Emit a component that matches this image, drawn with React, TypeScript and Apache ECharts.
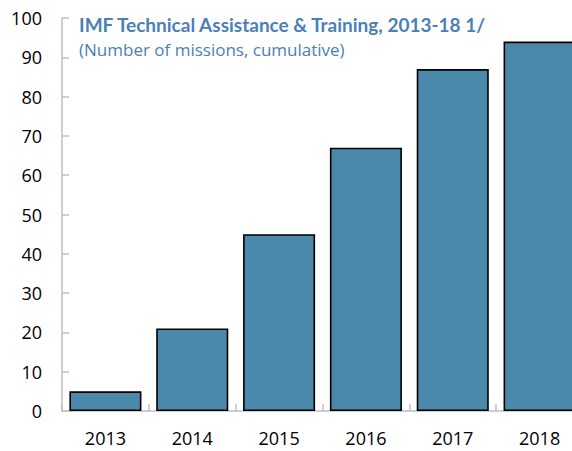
import React, { useEffect, useRef } from "react";
import * as echarts from "echarts";

const categories = ["2013", "2014", "2015", "2016", "2017", "2018"];
const missions = [5, 21, 45, 67, 87, 94];
const titleText = "IMF Technical Assistance & Training, 2013-18 1/";
const subtitleText = "(Number of missions, cumulative)";

export default function App() {
  const ref = useRef<HTMLDivElement>(null);
  useEffect(() => {
    if (!ref.current) return;
    const chart = echarts.init(ref.current, null, { renderer: "svg" });
    const font = "'Open Sans', 'Noto Sans', sans-serif";
    chart.setOption({
      animation: false,
      backgroundColor: "#ffffff",
      textStyle: { fontFamily: font },
      title: {
        text: titleText,
        subtext: subtitleText,
        left: 79,
        top: 15,
        itemGap: 7,
        padding: 0,
        textStyle: { color: "#4a7fb8", fontSize: 19, fontWeight: "bold", fontFamily: "Lato, 'Open Sans', sans-serif" },
        subtextStyle: { color: "#4a7fb8", fontSize: 17, fontFamily: font },
      },
      grid: { left: 62, right: -11, top: 18, bottom: 40, outerBoundsMode: "none", containLabel: false },
      xAxis: {
        type: "category",
        data: categories,
        axisLine: { show: true, lineStyle: { color: "#bfbfbf", width: 1.5 } },
        axisTick: { show: true, inside: true, length: 7, alignWithLabel: false, lineStyle: { color: "#bfbfbf", width: 1.5 } },
        axisLabel: { color: "#000", fontSize: 18, lineHeight: 16, margin: 19, fontFamily: font },
        splitLine: { show: false },
      },
      yAxis: {
        type: "value",
        min: 0,
        max: 100,
        interval: 10,
        axisLine: { show: true, lineStyle: { color: "#bfbfbf", width: 1.5 } },
        axisTick: { show: true, inside: true, length: 7, lineStyle: { color: "#bfbfbf", width: 1.5 } },
        axisLabel: { color: "#000", fontSize: 18, margin: 20, fontFamily: font },
        splitLine: { show: false },
      },
      series: [
        {
          type: "bar",
          data: missions,
          barCategoryGap: "17%",
          itemStyle: { color: "#4a89ac", borderColor: "#000", borderWidth: 1.6 },
        },
      ],
    });
    return () => chart.dispose();
  }, []);
  return (
    <div
      ref={ref}
      style={{ position: "fixed", left: 0, top: 0, width: 572, height: 451, background: "#fff" }}
    />
  );
}
